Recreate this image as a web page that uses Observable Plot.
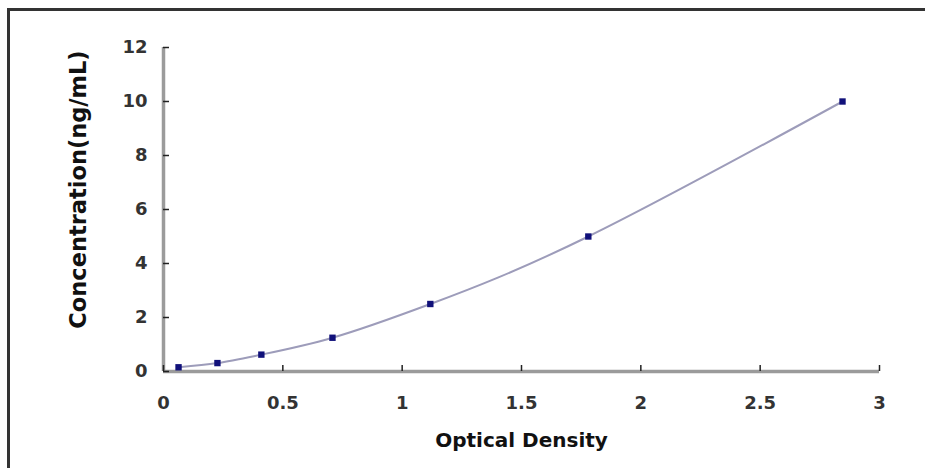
<!DOCTYPE html>
<html>
<head>
<meta charset="utf-8">
<script src="https://cdn.jsdelivr.net/npm/d3@7"></script>
<script src="https://cdn.jsdelivr.net/npm/@observablehq/plot@0.6"></script>
<style>
  html, body { margin: 0; padding: 0; background: #fff; }
  #wrap { position: relative; width: 925px; height: 468px; overflow: hidden; }
  #frame { position: absolute; left: 7px; top: 8px; right: -5px; bottom: -5px;
           border-top: 3px solid #333; border-left: 3px solid #333; pointer-events: none; }
</style>
</head>
<body>
<div id="wrap"><div id="frame"></div></div>
<script>
const opticalDensity = [0.063, 0.226, 0.41, 0.708, 1.118, 1.78, 2.845];
const concentration = [0.156, 0.312, 0.625, 1.25, 2.5, 5, 10];
const xTicks = [0, 0.5, 1, 1.5, 2, 2.5, 3];
const yTicks = [0, 2, 4, 6, 8, 10, 12];
const xTitle = "Optical Density";
const yTitle = "Concentration(ng/mL)";

const data = opticalDensity.map((x, i) => ({x, y: concentration[i]}));
const font = "DejaVu Sans, sans-serif";

const chart = Plot.plot({
  width: 925,
  height: 468,
  marginLeft: 163,
  marginRight: 46,
  marginTop: 47,
  marginBottom: 97,
  style: {fontFamily: font, background: "transparent", overflow: "visible"},
  x: {domain: [0, 3]},
  y: {domain: [0, 12]},
  marks: [
    Plot.ruleY([0], {stroke: "#9b9b9b", strokeWidth: 3.5}),
    Plot.ruleX([0], {stroke: "#9b9b9b", strokeWidth: 3.5}),
    Plot.axisX({ticks: xTicks, tickSize: 6, dy: -6, text: null, stroke: "#222", strokeWidth: 1.5, label: null}),
    Plot.axisY({ticks: yTicks, tickSize: 6, dx: 6, text: null, stroke: "#222", strokeWidth: 1.5, label: null}),
    Plot.axisX({ticks: xTicks, tickSize: 0, tickPadding: 25, tickFormat: d => String(d),
                fontSize: 18, fontWeight: "bold", fill: "#333", label: null}),
    Plot.axisY({ticks: yTicks, tickSize: 0, tickPadding: 16, tickFormat: d => String(d),
                fontSize: 18, fontWeight: "bold", fill: "#333", label: null}),
    Plot.line(data, {x: "x", y: "y", curve: "natural", stroke: "#9d9cba", strokeWidth: 2}),
    Plot.dot(data, {x: "x", y: "y", symbol: "square", r: 3.6, fill: "#10107a", stroke: "none"}),
    Plot.text([xTitle], {frameAnchor: "bottom", dy: 69, lineAnchor: "middle", fontSize: 20,
                fontWeight: "bold", fill: "#111", letterSpacing: "0.3px"}),
    Plot.text([yTitle], {frameAnchor: "left", rotate: -90, dx: -85, dy: -20, lineAnchor: "middle",
                textAnchor: "middle", fontSize: 22.5, fontWeight: "bold", fill: "#111"})
  ]
});
document.getElementById("wrap").prepend(chart);
</script>
</body>
</html>
